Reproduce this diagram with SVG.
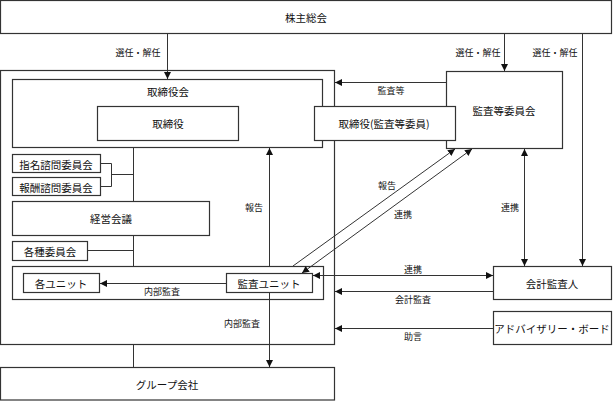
<svg xmlns="http://www.w3.org/2000/svg" width="613" height="401" viewBox="0 0 613 401">
<style>
.b{fill:#fff;stroke:#333;stroke-width:1.2}
.t{font-family:"Noto Sans CJK JP","Noto Sans CJK SC",sans-serif;font-size:10.5px;fill:#111;text-anchor:middle;dominant-baseline:central}
.l{font-family:"Noto Sans CJK JP","Noto Sans CJK SC",sans-serif;font-size:9px;fill:#111;text-anchor:middle;dominant-baseline:central}
.c{fill:none;stroke:#333;stroke-width:1}
.a{marker-end:url(#ah)}
.a2{marker-end:url(#ah);marker-start:url(#ah)}
</style>
<defs>
<marker id="ah" viewBox="0 0 10 10" refX="10" refY="5" markerWidth="7" markerHeight="7" markerUnits="userSpaceOnUse" orient="auto-start-reverse">
<path d="M0,0 L10,5 L0,10 Z" fill="#111"/>
</marker>
</defs>
<g id="kabunushi"><rect class="b" x="0.5" y="0.5" width="611" height="33"/><text class="t" x="306" y="17">株主総会</text></g>
<g id="outer"><rect class="b" x="0.5" y="70.5" width="334" height="274"/></g>
<g id="torishimariyakukai"><rect class="b" x="12.5" y="79.5" width="310" height="68"/><text class="t" x="168" y="91">取締役会</text></g>
<g id="torishimariyaku"><rect class="b" x="97.5" y="106.5" width="141" height="34"/><text class="t" x="168" y="123">取締役</text></g>
<g id="kansatouiinkai"><rect class="b" x="446.5" y="71.5" width="116" height="77"/><text class="t" x="504" y="110">監査等委員会</text></g>
<g id="torishimariyaku-kansa"><rect class="b" x="314.5" y="106.5" width="141" height="34"/><text class="t" x="384" y="123">取締役(監査等委員)</text></g>
<g id="shimei"><rect class="b" x="12.5" y="154.5" width="88" height="18"/><text class="t" x="56" y="164">指名諮問委員会</text></g>
<g id="houshu"><rect class="b" x="12.5" y="177.5" width="88" height="18"/><text class="t" x="56" y="187">報酬諮問委員会</text></g>
<g id="keiei"><rect class="b" x="12.5" y="201.5" width="197" height="34"/><text class="t" x="111" y="218">経営会議</text></g>
<g id="kakushu"><rect class="b" x="12.5" y="241.5" width="75" height="19"/><text class="t" x="50" y="251">各種委員会</text></g>
<g id="kansa-area"><rect class="b" x="12.5" y="266.5" width="311" height="33"/></g>
<g id="kakuunit"><rect class="b" x="23.5" y="273.5" width="76" height="19"/><text class="t" x="61" y="283">各ユニット</text></g>
<g id="kansaunit"><rect class="b" x="226.5" y="273.5" width="86" height="19"/><text class="t" x="269" y="283">監査ユニット</text></g>
<g id="group"><rect class="b" x="0.5" y="367.5" width="334" height="32.5"/><text class="t" x="167" y="384">グループ会社</text></g>
<g id="kaikei"><rect class="b" x="493.5" y="266.5" width="118" height="33"/><text class="t" x="552" y="283">会計監査人</text></g>
<g id="advisory"><rect class="b" x="493.5" y="311.5" width="118" height="33"/><text class="t" x="552" y="328">アドバイザリー・ボード</text></g>
<g id="connectors">
<line class="c a" x1="167.5" y1="34" x2="167.5" y2="79"/>
<line class="c a" x1="504.5" y1="34" x2="504.5" y2="71"/>
<line class="c a" x1="582.5" y1="34" x2="582.5" y2="266"/>
<line class="c a" x1="446" y1="82.5" x2="335" y2="82.5"/>
<line class="c a" x1="269.5" y1="266" x2="269.5" y2="148"/>
<line class="c a" x1="293" y1="266" x2="455" y2="149"/>
<line class="c a2" x1="472" y1="149" x2="302" y2="273"/>
<line class="c a2" x1="524.5" y1="149" x2="524.5" y2="266"/>
<line class="c a2" x1="313" y1="275.5" x2="493" y2="275.5"/>
<line class="c a" x1="493" y1="291.5" x2="335" y2="291.5"/>
<line class="c a" x1="493" y1="328.5" x2="335" y2="328.5"/>
<line class="c a" x1="226" y1="283.5" x2="100" y2="283.5"/>
<line class="c a" x1="269.5" y1="293" x2="269.5" y2="367"/>
<path class="c" d="M101,163.5 H111.5 V186.5 H101 M111.5,174.5 H133.5 M133.5,148 V201 M133.5,236 V266 M88,250.5 H133.5 M133.5,345 V367"/>
<text class="l" x="138" y="52">選任・解任</text>
<text class="l" x="478" y="52">選任・解任</text>
<text class="l" x="555" y="52">選任・解任</text>
<text class="l" x="391" y="90">監査等</text>
<text class="l" x="254" y="207">報告</text>
<text class="l" x="387" y="185">報告</text>
<text class="l" x="403" y="214">連携</text>
<text class="l" x="510" y="207">連携</text>
<text class="l" x="413" y="269">連携</text>
<text class="l" x="413" y="299">会計監査</text>
<text class="l" x="413" y="336">助言</text>
<text class="l" x="162" y="291">内部監査</text>
<text class="l" x="242" y="323">内部監査</text>
</g>
</svg>
